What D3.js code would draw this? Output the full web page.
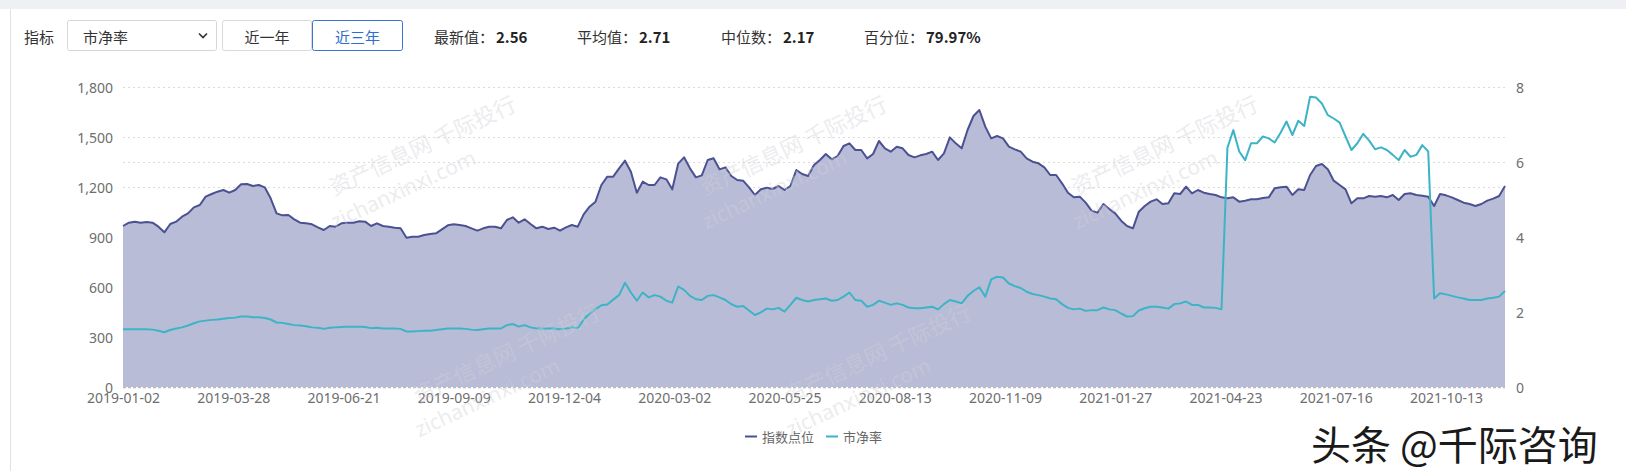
<!DOCTYPE html>
<html><head><meta charset="utf-8">
<script src="https://cdn.jsdelivr.net/npm/d3@7/dist/d3.min.js"></script>
<style>
html,body{margin:0;padding:0;background:#fff;}
svg{display:block;}
</style></head><body>
<svg id="c" width="1626" height="471"></svg>
<script>
// ---------------- data ----------------
const tickLabels = ["2019-01-02","2019-03-28","2019-06-21","2019-09-09","2019-12-04","2020-03-02","2020-05-25","2020-08-13","2020-11-09","2021-01-27","2021-04-23","2021-07-16","2021-10-13"];
const tickDays = [0,56,112,168,224,280,336,392,448,504,560,616,672];
const totalDays = 702;      // trading days on the axis
const sampleStep = 3;       // one reading every 3 trading days

const indexPoints = [
966,986,992,986,990,986,962,928,978,992,1022,1042,1078,1092,1142,1158,1172,1182,1166,1182,1216,1218,1206,1212,1198,1132,1042,1030,1032,1006,986,982,976,958,942,966,962,982,986,986,994,992,966,982,966,962,956,
952,896,902,902,912,918,922,946,970,976,972,966,952,938,952,962,962,952,1002,1018,986,1006,978,952,962,948,956,938,958,972,962,1036,1082,1112,1212,1262,1262,1312,1358,1292,1166,1232,1212,1212,1258,1246,
1186,1340,1378,1312,1258,1270,1362,1372,1306,1318,1266,1242,1238,1198,1152,1186,1196,1188,1206,1182,1206,1302,1278,1266,1332,1362,1398,1366,1386,1446,1462,1422,1422,1372,1398,1476,1432,1412,1442,1432,1392,1378,1390,1398,1412,1362,1402,
1498,1462,1432,1542,1626,1662,1562,1492,1506,1492,1442,1426,1412,1372,1352,1342,1318,1272,1272,1222,1166,1138,1142,1106,1058,1046,1098,1068,1042,998,966,952,1052,1086,1112,1126,1098,1102,1162,1158,1202,1162,1182,1166,1158,1152,1138,
1132,1138,1112,1118,1126,1126,1134,1138,1192,1198,1202,1152,1186,1182,1272,1326,1338,1306,1238,1212,1186,1102,1132,1132,1146,1142,1146,1138,1152,1122,1158,1162,1152,1148,1142,1086,1158,1150,1138,1122,1106,1098,1086,1098,1118,1130,1146,1206
];
const pbValues = [
1.54,1.54,1.54,1.54,1.54,1.53,1.50,1.46,1.52,1.56,1.59,1.64,1.70,1.75,1.77,1.79,1.80,1.82,1.84,1.85,1.88,1.88,1.86,1.86,1.84,1.80,1.72,1.71,1.68,1.65,1.64,1.62,1.59,1.58,1.55,1.58,1.59,1.60,1.61,1.61,1.61,1.60,1.57,1.58,1.56,1.56,1.56,
1.55,1.48,1.48,1.49,1.50,1.50,1.52,1.54,1.56,1.56,1.56,1.55,1.53,1.52,1.54,1.56,1.56,1.56,1.65,1.68,1.61,1.65,1.59,1.56,1.56,1.56,1.56,1.54,1.56,1.59,1.56,1.80,1.96,2.07,2.18,2.20,2.33,2.45,2.78,2.52,2.30,2.52,2.39,2.45,2.41,2.30,
2.25,2.68,2.59,2.43,2.34,2.32,2.43,2.45,2.39,2.32,2.21,2.14,2.16,2.04,1.92,1.99,2.09,2.07,2.11,2.01,2.19,2.38,2.32,2.28,2.32,2.34,2.36,2.30,2.32,2.41,2.52,2.32,2.30,2.14,2.19,2.30,2.25,2.19,2.23,2.19,2.12,2.10,2.10,2.12,2.14,2.07,2.21,
2.32,2.28,2.23,2.43,2.56,2.66,2.41,2.87,2.94,2.92,2.76,2.69,2.64,2.54,2.48,2.45,2.41,2.36,2.34,2.21,2.11,2.07,2.09,2.03,2.05,2.05,2.12,2.07,2.05,1.96,1.88,1.89,2.04,2.10,2.14,2.14,2.12,2.09,2.21,2.23,2.28,2.19,2.19,2.12,2.12,2.11,2.07,
6.38,6.85,6.28,6.05,6.50,6.50,6.68,6.63,6.52,6.78,7.08,6.72,7.10,6.96,7.74,7.72,7.56,7.25,7.16,7.05,6.68,6.32,6.50,6.75,6.57,6.34,6.39,6.32,6.19,6.05,6.32,6.14,6.19,6.45,6.28,2.36,2.50,2.47,2.43,2.39,2.36,2.32,2.32,2.32,2.36,2.38,2.41,2.56
];
const leftTicks = [0,300,600,900,1200,1500,1800];
const rightTicks = [0,2,4,6,8];
const seriesNames = ["指数点位","市净率"];
const statLabels = ["最新值：","平均值：","中位数：","百分位："];
const statValues = ["2.56","2.71","2.17","79.97%"];
const rangeButtons = ["近一年","近三年"];

// ---------------- drawing ----------------
const svg = d3.select("#c");
const W = 1626, H = 471;
const plot = {left:123, right:1505, top:87, bottom:387};
const cjk = "'Microsoft YaHei','Noto Sans CJK SC','Noto Sans',sans-serif";
const latin = "'Noto Sans','Open Sans',sans-serif";

const colIndex = "#4b5191", colFill = "#b8bcd7", colPB = "#3db4c6";

// page frame
svg.append("rect").attr("x",0).attr("y",0).attr("width",W).attr("height",H).attr("fill","#fff");
svg.append("rect").attr("x",0).attr("y",0).attr("width",W).attr("height",9).attr("fill","#eff0f4");
svg.append("line").attr("x1",10.5).attr("x2",10.5).attr("y1",9).attr("y2",H).attr("stroke","#e2e2e2");

// controls row
const cy = 36;
svg.append("text").attr("x",24).attr("y",cy).attr("dominant-baseline","central")
  .attr("font-family",cjk).attr("font-size",15).attr("fill","#333").text("指标");
svg.append("rect").attr("x",67.5).attr("y",20.5).attr("width",149).attr("height",30).attr("rx",2)
  .attr("fill","#fff").attr("stroke","#d6d6d6");
svg.append("text").attr("x",83).attr("y",cy).attr("dominant-baseline","central")
  .attr("font-family",cjk).attr("font-size",15).attr("fill","#333").text(seriesNames[1]);
svg.append("path").attr("d","M199,33.5 L203,37.5 L207,33.5").attr("fill","none").attr("stroke","#333").attr("stroke-width",1.6);

const btnX = [222, 312], btnW = [90, 91];
rangeButtons.forEach((b,i)=>{
  const sel = i===1;
  svg.append("rect").attr("x",btnX[i]+0.5).attr("y",20.5).attr("width",btnW[i]-1).attr("height",30).attr("rx",2)
    .attr("fill","#fff").attr("stroke", sel ? "#3a75d3" : "#d9d9d9");
  svg.append("text").attr("x",btnX[i]+btnW[i]/2).attr("y",cy).attr("dominant-baseline","central").attr("text-anchor","middle")
    .attr("font-family",cjk).attr("font-size",15).attr("fill", sel ? "#2f6dd0" : "#333").text(b);
});
const statX = [434, 577, 721, 864];
statLabels.forEach((s,i)=>{
  const t = svg.append("text").attr("x",statX[i]).attr("y",cy).attr("dominant-baseline","central")
    .attr("font-family",cjk).attr("font-size",15).attr("fill","#333");
  t.append("tspan").text(s);
  t.append("tspan").attr("font-weight","bold").attr("fill","#222").attr("dx",2).text(statValues[i]);
});

// scales
const x = d3.scaleLinear().domain([0,totalDays]).range([plot.left, plot.right]);
const yL = d3.scaleLinear().domain([0,1800]).range([plot.bottom, plot.top]);
const yR = d3.scaleLinear().domain([0,8]).range([plot.bottom, plot.top]);

// gridlines
const gridG = svg.append("g");
leftTicks.filter(t=>t>0).forEach(t=>{
  gridG.append("line").attr("x1",plot.left).attr("x2",plot.right).attr("y1",Math.round(yL(t))+0.5).attr("y2",Math.round(yL(t))+0.5)
    .attr("stroke","#dcdcdc").attr("stroke-dasharray","2,3");
});
rightTicks.filter(t=>t>0 && t<8).forEach(t=>{
  gridG.append("line").attr("x1",plot.left).attr("x2",plot.right).attr("y1",Math.round(yR(t))+0.5).attr("y2",Math.round(yR(t))+0.5)
    .attr("stroke","#dcdcdc").attr("stroke-dasharray","2,3");
});

// series
const dayOf = (d,i)=> i*sampleStep;
const area = d3.area().x((d,i)=>x(dayOf(d,i))).y0(plot.bottom).y1(d=>yL(d));
const lineL = d3.line().x((d,i)=>x(dayOf(d,i))).y(d=>yL(d));
const lineR = d3.line().x((d,i)=>x(dayOf(d,i))).y(d=>yR(d));

svg.append("path").datum(indexPoints).attr("d",area).attr("fill",colFill);
svg.append("path").datum(indexPoints).attr("d",lineL).attr("fill","none").attr("stroke",colIndex).attr("stroke-width",2).attr("stroke-linejoin","round");
svg.append("path").datum(pbValues).attr("d",lineR).attr("fill","none").attr("stroke",colPB).attr("stroke-width",2).attr("stroke-linejoin","round");

// zero axis line
svg.append("line").attr("x1",plot.left).attr("x2",plot.right).attr("y1",plot.bottom+0.5).attr("y2",plot.bottom+0.5)
  .attr("stroke","#b9b9c4").attr("stroke-width",1.5).attr("stroke-dasharray","3,2");

// axes (d3 axes, restyled)
const axL = svg.append("g").attr("transform",`translate(${plot.left-10},0)`)
  .call(d3.axisLeft(yL).tickValues(leftTicks).tickFormat(d3.format(",")).tickSize(0).tickPadding(0));
const axR = svg.append("g").attr("transform",`translate(${plot.right+11},0)`)
  .call(d3.axisRight(yR).tickValues(rightTicks).tickFormat(d3.format("d")).tickSize(0).tickPadding(0));
const axB = svg.append("g").attr("transform",`translate(0,${plot.bottom+10})`)
  .call(d3.axisBottom(x).tickValues(tickDays).tickFormat((d,i)=>tickLabels[i]).tickSize(0).tickPadding(0));
[axL,axR,axB].forEach(a=>{
  a.select(".domain").remove();
  a.selectAll("text").attr("font-family",latin).attr("font-size",14).attr("fill","#6e6e6e");
});
axB.selectAll("text").attr("dy",null).attr("y",0).attr("dominant-baseline","central");
axL.selectAll("text").attr("dy",null).attr("dominant-baseline","central");
axR.selectAll("text").attr("dy",null).attr("dominant-baseline","central");

// legend
const legY = 436;
const legItems = [{name:seriesNames[0], c:colIndex, x:745},{name:seriesNames[1], c:colPB, x:826}];
legItems.forEach(l=>{
  svg.append("line").attr("x1",l.x).attr("x2",l.x+12).attr("y1",legY+0.5).attr("y2",legY+0.5).attr("stroke",l.c).attr("stroke-width",2);
  svg.append("text").attr("x",l.x+17).attr("y",legY).attr("dominant-baseline","central")
    .attr("font-family",cjk).attr("font-size",13).attr("fill","#666").text(l.name);
});

// faint site watermarks (only fully visible copies)
const wmG = svg.append("g").attr("pointer-events","none");
const wmAnchors = [[518,110],[889,110],[1260,110],[602,318],[973,318]];
wmAnchors.forEach(([ax,ay])=>{
  const g = wmG.append("g").attr("transform",`translate(${ax},${ay}) rotate(-25)`);
  g.append("text").attr("text-anchor","end").attr("font-family",cjk).attr("font-size",22)
    .attr("fill","#d0d1d8").attr("opacity",0.4).text("资产信息网 千际投行");
  g.append("text").attr("x",-59).attr("y",31).attr("text-anchor","end").attr("font-family",latin).attr("font-size",21)
    .attr("fill","#d0d1d8").attr("opacity",0.4).text("zichanxinxi.com");
});

// author mark
svg.append("text").attr("x",1311).attr("y",443).attr("dominant-baseline","central")
  .attr("font-family",cjk).attr("font-size",40).attr("fill","#1a1a1a")
  .attr("stroke","#fff").attr("stroke-width",3).attr("paint-order","stroke").text("头条 @千际咨询");
</script>
</body></html>
